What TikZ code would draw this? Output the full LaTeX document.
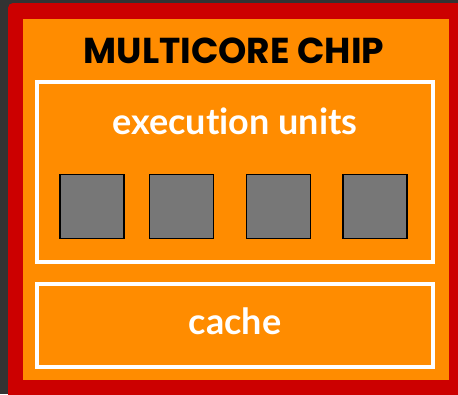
\documentclass[tikz,border=0pt]{standalone}
\usepackage{fontspec}
\newfontfamily\titlefont{Poppins}
\newfontfamily\labelfont[Ligatures=NoCommon]{Lato}
\definecolor{bgdark}{HTML}{333333}
\definecolor{chipred}{HTML}{CC0000}
\definecolor{chiporange}{HTML}{FF8C00}
\definecolor{coregray}{HTML}{777777}
\tikzset{
  chipbody/.style={fill=chiporange, draw=none, inner sep=0pt},
  section/.style={draw=white, line width=4pt, inner sep=0pt},
  core/.style={fill=coregray, draw=black, line width=1.6pt, minimum width=64pt, minimum height=64pt, inner sep=0pt},
  title/.style={font=\titlefont\bfseries\fontsize{36}{36}\selectfont, text=black, anchor=base, inner sep=0pt},
  label/.style={font=\labelfont\bfseries\fontsize{36}{36}\selectfont, text=white, anchor=base, inner sep=0pt},
}
\begin{document}
\begin{tikzpicture}[x=1pt,y=-1pt]
\useasboundingbox (0,0) rectangle (458,394);
\fill[bgdark] (0,0) rectangle (458,394);
\fill[chipred, rounded corners=5pt] (8,3) rectangle (480,420);
\node[chipbody, minimum width=426pt, minimum height=361pt] (chip) at (236,199.5) {};
\node[title] (chiptitle) at (234,63) {MULTICORE CHIP};
\node[section, minimum width=396pt, minimum height=180pt] (exec) at (235,172) {};
\node[label] (execlabel) at (235,134) {execution units};
\node[core] (c1) at (92,206.5) {};
\node[core] (c2) at (181.5,206.5) {};
\node[core] (c3) at (278.5,206.5) {};
\node[core] (c4) at (375,206.5) {};
\node[section, minimum width=396pt, minimum height=83pt] (cache) at (235,325.5) {};
\node[label] (cachelabel) at (235,334) {cache};
\end{tikzpicture}
\end{document}
